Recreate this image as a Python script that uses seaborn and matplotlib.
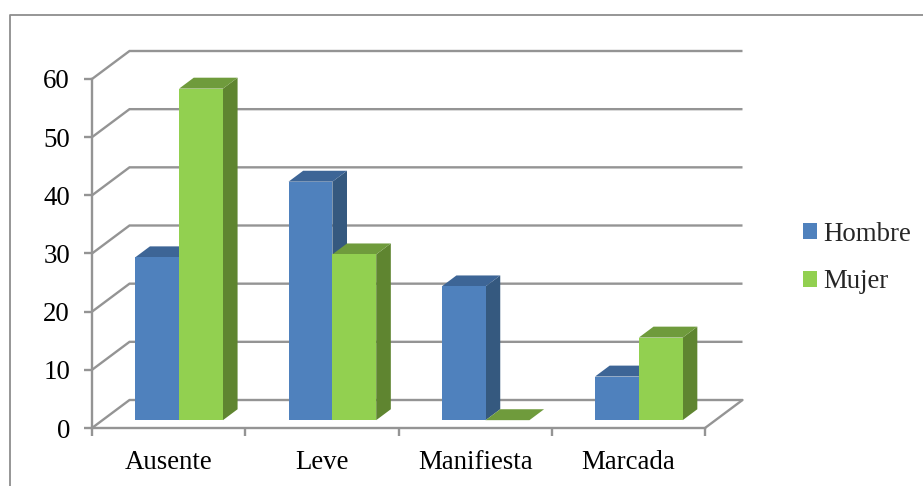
import matplotlib
matplotlib.use("Agg")
import matplotlib.pyplot as plt
from matplotlib.lines import Line2D
from matplotlib.patches import Polygon
import pandas as pd
import seaborn as sns

categories = ["Ausente", "Leve", "Manifiesta", "Marcada"]
hombre = [28, 41, 23, 7.5]
mujer = [57, 28.5, 0, 14.2]
y_ticks = [0, 10, 20, 30, 40, 50, 60]

front_colors = {"Hombre": "#4F81BD", "Mujer": "#92D050"}
side_colors = {"Hombre": "#35597F", "Mujer": "#5F8530"}
top_colors = {"Hombre": "#3D6596", "Mujer": "#6F9B3C"}
grid_color = "#949494"

df = pd.DataFrame({
    "categoria": categories * 2,
    "valor": hombre + mujer,
    "sexo": ["Hombre"] * len(categories) + ["Mujer"] * len(categories),
})

sns.set_theme(style="white")
plt.rcParams["font.family"] = ["Liberation Serif", "DejaVu Serif"]

W, H = 923, 486
fig = plt.figure(figsize=(W / 100, H / 100), dpi=100, facecolor="white")
ax = fig.add_axes([92 / W, (H - 428) / H, (705 - 92) / W, (428 - 79) / H])
ax.patch.set_alpha(0)

sns.barplot(
    data=df, x="categoria", y="valor", hue="sexo", order=categories,
    palette=front_colors, width=0.572, gap=0, saturation=1, linewidth=0, ax=ax,
)
ax.set_xlim(-0.5, 3.5)
ax.set_ylim(0, 60)

# Oblique projection: depth 0 is the front of the floor, depth 1 the back wall.
DX = 37.5 / ((705 - 92) / 4)
DY = 28 / ((428 - 79) / 60)
BAR_FRONT = 0.28
BAR_BACK = 0.67


def project(x, y, depth):
    return (x + depth * DX, y + depth * DY)


# Back wall gridlines with their diagonals running to the value axis.
for v in y_ticks:
    xs, ys = zip(project(-0.5, v, 0), project(-0.5, v, 1), project(3.5, v, 1))
    ax.plot(xs, ys, color=grid_color, lw=1.7, clip_on=False, zorder=1,
            solid_capstyle="butt", solid_joinstyle="miter")
xs, ys = zip(project(3.5, 0, 0), project(3.5, 0, 1))
ax.plot(xs, ys, color=grid_color, lw=1.7, clip_on=False, zorder=1)

# Seaborn draws the front faces; the top and side faces follow from each bar.
series = ["Hombre"] * len(categories) + ["Mujer"] * len(categories)
bars = [p for p in ax.patches]
for n, (bar, name) in enumerate(zip(bars, series)):
    x0, w, h = bar.get_x(), bar.get_width(), bar.get_height()
    z = 3 + (n // len(categories))
    side = [project(x0 + w, 0, BAR_FRONT), project(x0 + w, 0, BAR_BACK),
            project(x0 + w, h, BAR_BACK), project(x0 + w, h, BAR_FRONT)]
    top = [project(x0, h, BAR_FRONT), project(x0, h, BAR_BACK),
           project(x0 + w, h, BAR_BACK), project(x0 + w, h, BAR_FRONT)]
    ax.add_patch(Polygon(side, closed=True, fc=side_colors[name], ec="none",
                         clip_on=False, zorder=z))
    ax.add_patch(Polygon(top, closed=True, fc=top_colors[name], ec="none",
                         clip_on=False, zorder=z))
    fx, fy = project(x0, 0, BAR_FRONT)
    bar.set_x(fx)
    bar.set_y(fy)
    bar.set_clip_on(False)
    bar.set_zorder(z + 0.5)

# Axes
ax.set_xlabel("")
ax.set_ylabel("")
ax.set_yticks(y_ticks)
ax.set_xticks(range(len(categories)))
ax.set_xticklabels(categories)
ax.set_xticks([-0.5, 0.5, 1.5, 2.5, 3.5], minor=True)
ax.tick_params(axis="x", which="major", length=0, pad=15.5, labelsize=19.4, labelcolor="black")
ax.tick_params(axis="x", which="minor", length=5.5, width=1.7, color=grid_color, direction="out", bottom=True)
ax.tick_params(axis="y", length=6, width=1.7, color=grid_color, pad=9.8, labelsize=19.4, labelcolor="black", left=True)
for s in ("top", "right"):
    ax.spines[s].set_visible(False)
for s in ("left", "bottom"):
    ax.spines[s].set_color(grid_color)
    ax.spines[s].set_linewidth(1.7)
    ax.spines[s].set_zorder(2)

# Legend
handles, labels = ax.get_legend_handles_labels()
ax.get_legend().remove()
fig.legend(
    handles, labels, loc="center left", bbox_to_anchor=(803 / W, (H - 258) / H),
    bbox_transform=fig.transFigure, frameon=False, fontsize=19.4,
    handlelength=0.52, handleheight=0.52, handletextpad=0.24,
    labelspacing=0.85, borderpad=0, borderaxespad=0,
)

# Outer chart frame, cut off at the image edge.
fig.add_artist(Line2D([9.5 / W, 9.5 / W, 1], [0, (H - 15) / H, (H - 15) / H],
                      transform=fig.transFigure, color="#8E8E8E", lw=1.3))

fig.savefig("out.png", dpi=100)
